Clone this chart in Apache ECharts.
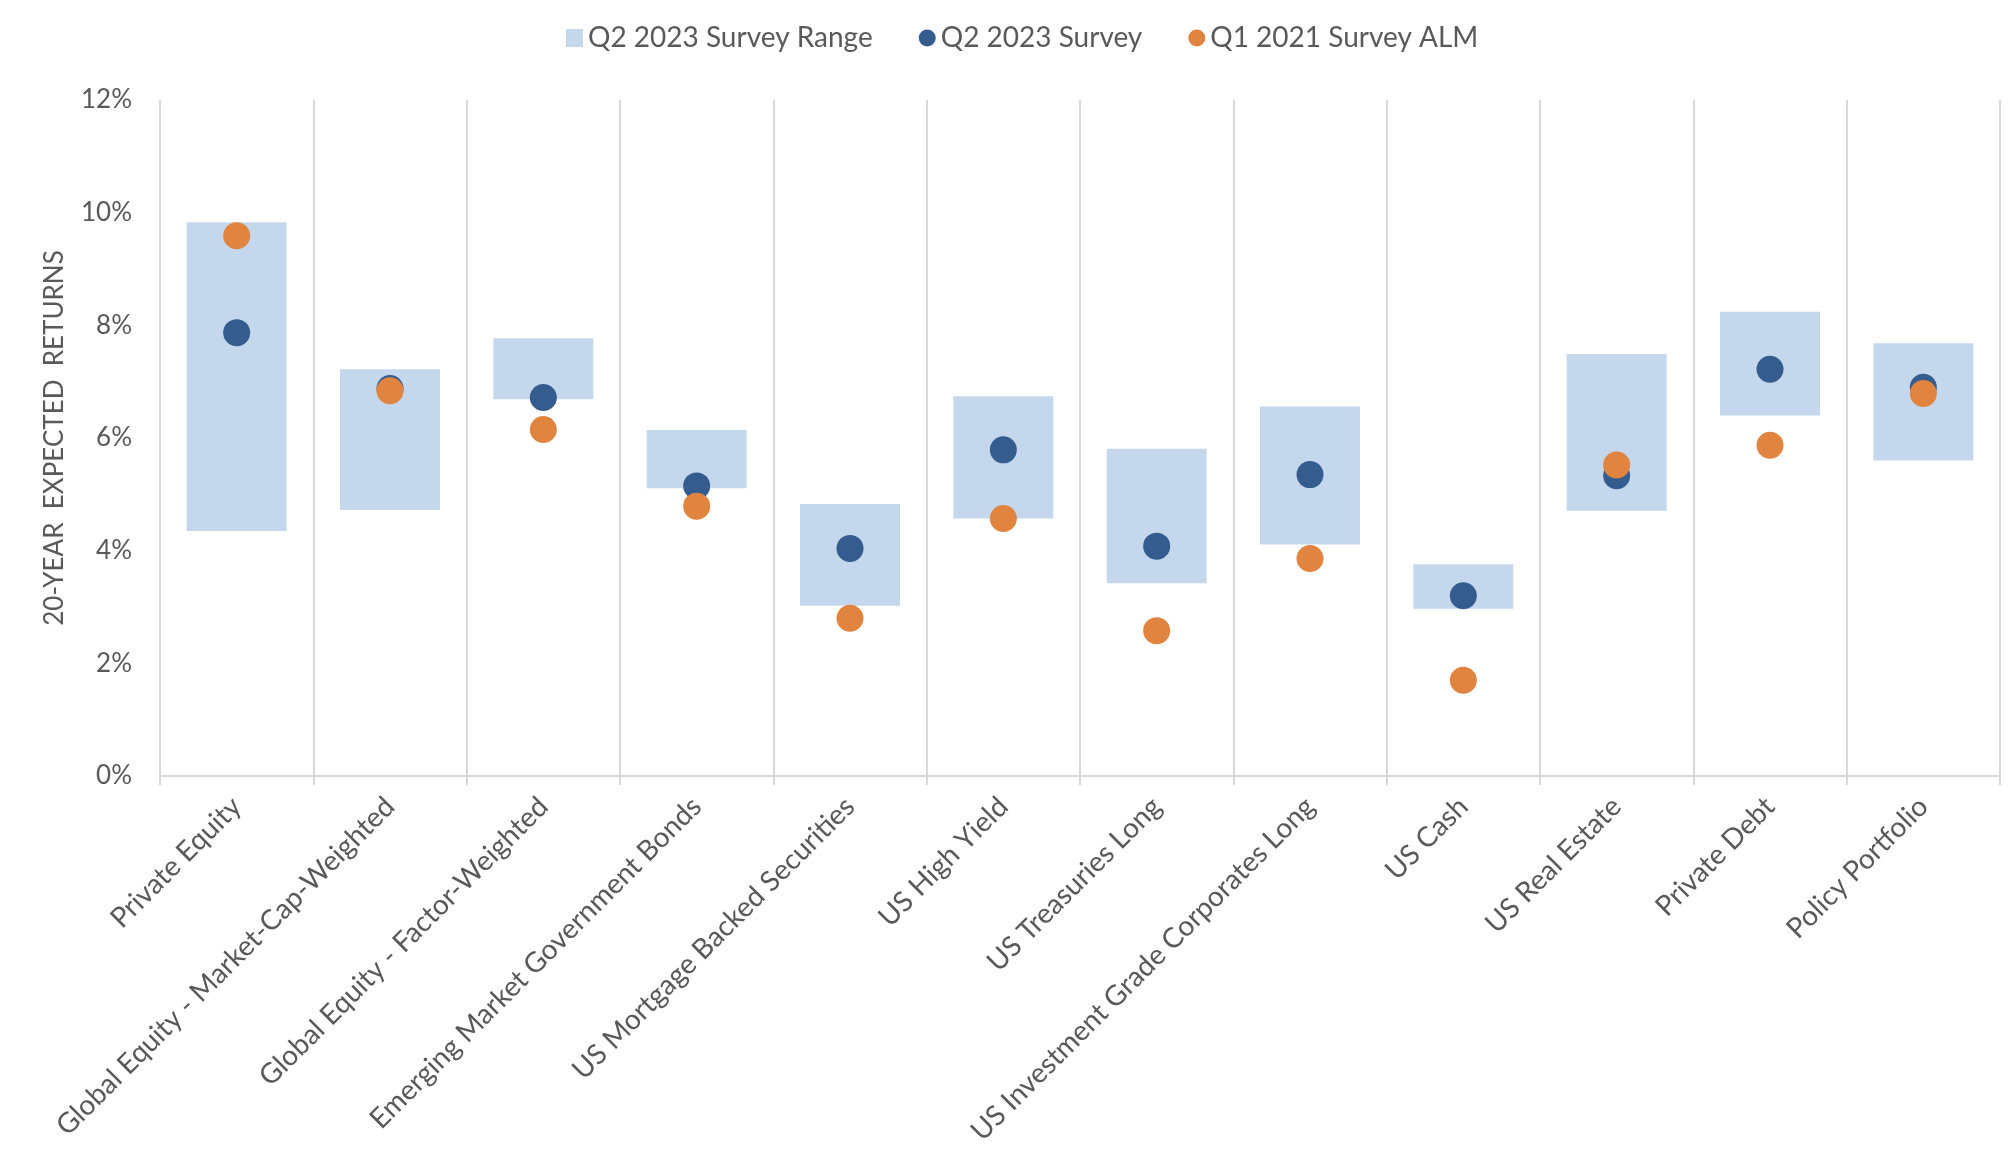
<!DOCTYPE html>
<html>
<head>
<meta charset="utf-8">
<script src="https://cdn.jsdelivr.net/npm/echarts@6/dist/echarts.min.js"></script>
<style>
html,body{margin:0;padding:0;background:#fff;}
#chart{width:2014px;height:1172px;}
</style>
</head>
<body>
<div id="chart"></div>
<script>
const categories = [
  "Private Equity",
  "Global Equity - Market-Cap-Weighted",
  "Global Equity - Factor-Weighted",
  "Emerging Market Government Bonds",
  "US Mortgage Backed Securities",
  "US High Yield",
  "US Treasuries Long",
  "US Investment Grade Corporates Long",
  "US Cash",
  "US Real Estate",
  "Private Debt",
  "Policy Portfolio"
];
const rangeLow  = [4.35, 4.72, 6.69, 5.11, 3.02, 4.57, 3.42, 4.11, 2.97, 4.71, 6.40, 5.60];
const rangeHigh = [9.83, 7.22, 7.77, 6.14, 4.83, 6.74, 5.81, 6.56, 3.76, 7.49, 8.24, 7.68];
const survey2023 = [7.87, 6.88, 6.72, 5.15, 4.04, 5.79, 4.08, 5.35, 3.20, 5.33, 7.22, 6.90];
const alm2021    = [9.59, 6.84, 6.15, 4.79, 2.80, 4.57, 2.58, 3.86, 1.70, 5.52, 5.87, 6.79];
const yTicks = [0, 2, 4, 6, 8, 10, 12];

const rangeSize = rangeHigh.map((h, i) => +(h - rangeLow[i]).toFixed(2));
const FONT = "Lato, 'Noto Sans', sans-serif";
const TXT = "#595959";
const GRID = "#d9d9d9";

const chart = echarts.init(document.getElementById('chart'));
chart.setOption({
  animation: false,
  backgroundColor: '#fff',
  textStyle: { fontFamily: FONT, color: TXT },
  legend: {
    top: 19,
    left: 561,
    itemWidth: 17,
    itemHeight: 18,
    itemGap: 46,
    textStyle: { fontFamily: FONT, fontSize: 28, color: TXT },
    data: [
      { name: 'Q2 2023 Survey Range', icon: 'rect' },
      { name: 'Q2 2023 Survey', icon: 'circle' },
      { name: 'Q1 2021 Survey ALM', icon: 'circle' }
    ]
  },
  grid: { left: 160, right: 14, top: 100, bottom: 396, containLabel: false },
  xAxis: {
    type: 'category',
    data: categories,
    boundaryGap: true,
    axisLine: { show: true, lineStyle: { color: GRID, width: 2 } },
    axisTick: { show: true, length: 9, lineStyle: { color: GRID, width: 2 } },
    splitLine: { show: true, lineStyle: { color: GRID, width: 2 } },
    axisLabel: {
      rotate: 45,
      interval: 0,
      margin: 26,
      fontFamily: FONT,
      fontSize: 28,
      color: TXT
    }
  },
  yAxis: {
    type: 'value',
    min: 0,
    max: 12,
    interval: 2,
    name: '20-YEAR  EXPECTED  RETURNS',
    nameLocation: 'middle',
    nameGap: 92,
    nameTextStyle: { fontFamily: FONT, fontSize: 26, color: TXT },
    axisLine: { show: false },
    axisTick: { show: false },
    splitLine: { show: false },
    axisLabel: {
      margin: 28,
      fontFamily: FONT,
      fontSize: 26,
      color: TXT,
      formatter: v => yTicks.includes(v) ? v + '%' : ''
    }
  },
  series: [
    {
      name: 'base',
      type: 'bar',
      stack: 'range',
      data: rangeLow,
      barWidth: 100,
      itemStyle: { color: 'transparent' },
      silent: true
    },
    {
      name: 'Q2 2023 Survey Range',
      type: 'bar',
      stack: 'range',
      data: rangeSize,
      barWidth: 100,
      itemStyle: { color: '#c4d7ec' }
    },
    {
      name: 'Q2 2023 Survey',
      type: 'scatter',
      data: survey2023,
      symbol: 'circle',
      symbolSize: 27,
      itemStyle: { color: '#345c8e', opacity: 1 },
      z: 3
    },
    {
      name: 'Q1 2021 Survey ALM',
      type: 'scatter',
      data: alm2021,
      symbol: 'circle',
      symbolSize: 27,
      itemStyle: { color: '#e0843f', opacity: 1 },
      z: 4
    }
  ]
});
</script>
</body>
</html>
